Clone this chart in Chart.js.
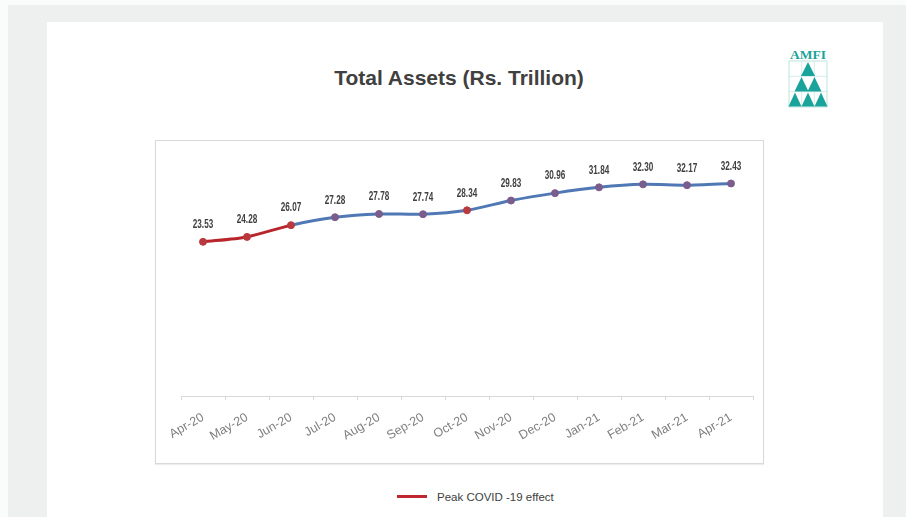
<!DOCTYPE html>
<html>
<head>
<meta charset="utf-8">
<script src="https://cdn.jsdelivr.net/npm/chart.js@4.4.1/dist/chart.umd.min.js"></script>
<style>
  html, body { margin: 0; padding: 0; }
  body { width: 906px; height: 517px; position: relative; overflow: hidden; background: #fafbfb; font-family: 'Liberation Sans', Arial, sans-serif; }
  #backdrop { position: absolute; left: 8px; top: 5px; right: 0; bottom: 0; background: #edf0ef; }
  #card { position: absolute; left: 47px; top: 22px; width: 836px; height: 495px; background: #fff; }
  #title { position: absolute; left: 0; top: 66px; width: 918px; text-align: center; font: bold 21px 'Liberation Sans', Arial, sans-serif; color: #404040; line-height: 24px; }
  #logo { position: absolute; left: 786px; top: 47px; }
  #frame { position: absolute; left: 155px; top: 140px; width: 607px; height: 322px; border: 1px solid #d9d9d9; box-shadow: 0 1px 1px #ececec; }
  #wrap { position: absolute; left: 155px; top: 140px; width: 609px; height: 324px; }
  #legend { position: absolute; left: 397px; top: 491px; font: 11.5px 'Liberation Sans', Arial, sans-serif; color: #404040; white-space: nowrap; }
  #legend .swatch { display: inline-block; width: 30px; height: 3px; background: #c0282f; vertical-align: middle; margin-right: 10px; position: relative; top: -1px; }
</style>
</head>
<body>
<div id="backdrop"></div>
<div id="card"></div>
<div id="title">Total Assets (Rs. Trillion)</div>
<svg id="logo" width="44" height="62" viewBox="0 0 44 62">
  <text x="22" y="12" text-anchor="middle" font-family="'Liberation Serif', serif" font-weight="bold" font-size="12" fill="#1aa39a" textLength="36" lengthAdjust="spacingAndGlyphs">AMFI</text>
  <rect x="3" y="14" width="38" height="46" fill="#fff" stroke="#bfe3df" stroke-width="1"/>
  <g stroke="#c9e7e3" stroke-width="0.8">
    <line x1="15.7" y1="14" x2="15.7" y2="60"/>
    <line x1="28.3" y1="14" x2="28.3" y2="60"/>
    <line x1="3" y1="29.3" x2="41" y2="29.3"/>
    <line x1="3" y1="44.7" x2="41" y2="44.7"/>
  </g>
  <g fill="#1aa39a">
    <polygon points="22,15 29,29 15,29"/>
    <polygon points="15.5,30 22.5,44.5 8.5,44.5"/>
    <polygon points="28.5,30 35.5,44.5 21.5,44.5"/>
    <polygon points="9,45.5 15.5,59.5 2.5,59.5"/>
    <polygon points="22,45.5 28.5,59.5 15.5,59.5"/>
    <polygon points="35,45.5 41.5,59.5 28.5,59.5"/>
  </g>
</svg>
<div id="frame"></div>
<div id="wrap"><canvas id="assetsChart"></canvas></div>
<div id="legend"><span class="swatch"></span>Peak COVID -19 effect</div>

<script>
// Monthly industry AUM, Rs. trillion
const months = ['Apr-20', 'May-20', 'Jun-20', 'Jul-20', 'Aug-20', 'Sep-20', 'Oct-20',
                'Nov-20', 'Dec-20', 'Jan-21', 'Feb-21', 'Mar-21', 'Apr-21'];
const totalAssets = [23.53, 24.28, 26.07, 27.28, 27.78, 27.74, 28.34,
                     29.83, 30.96, 31.84, 32.30, 32.17, 32.43];
// first months of the series are the peak covid stretch
const covidMonths = 2;

const RED = '#b8262c';
const BLUE = '#4f78b5';
const MARKER = '#7a5d8c';
const MARKER_RED = '#b83a3f';

const markerColors = months.map((m, i) => (i <= covidMonths || i === 6) ? MARKER_RED : MARKER);

// write the value over every point (squeezed a bit, like the old Calibri labels)
const valueLabels = {
    id: 'valueLabels',
    afterDatasetsDraw(chart) {
        const ctx = chart.ctx;
        const meta = chart.getDatasetMeta(0);
        ctx.save();
        ctx.font = "bold 12px 'Liberation Sans', Arial, sans-serif";
        ctx.fillStyle = '#404040';
        ctx.textAlign = 'center';
        ctx.textBaseline = 'bottom';
        meta.data.forEach((pt, i) => {
            ctx.save();
            ctx.translate(pt.x, pt.y - 11);
            ctx.scale(0.68, 1);
            ctx.fillText(totalAssets[i].toFixed(2), 0, 0);
            ctx.restore();
        });
        ctx.restore();
    }
};

const ctx = document.getElementById('assetsChart').getContext('2d');
new Chart(ctx, {
    type: 'line',
    data: {
        labels: months,
        datasets: [{
            label: 'Total Assets',
            data: totalAssets,
            borderColor: BLUE,
            borderWidth: 3,
            tension: 0.25,
            pointRadius: 3.5,
            pointBackgroundColor: markerColors,
            pointBorderColor: markerColors,
            pointBorderWidth: 1,
            segment: {
                borderColor: c => c.p0DataIndex < covidMonths ? RED : BLUE
            }
        }]
    },
    options: {
        responsive: true,
        maintainAspectRatio: false,
        animation: false,
        layout: { padding: { left: 26, right: 11, top: 7, bottom: 0 } },
        plugins: {
            legend: { display: false },
            tooltip: { enabled: false }
        },
        scales: {
            y: {
                display: false,
                min: 0,
                max: 38
            },
            x: {
                offset: true,
                grid: {
                    offset: true,
                    drawOnChartArea: false,
                    drawTicks: true,
                    tickLength: 4,
                    color: '#d9d9d9'
                },
                border: { color: '#d9d9d9', width: 1 },
                ticks: {
                    autoSkip: false,
                    minRotation: 30,
                    maxRotation: 30,
                    padding: 10,
                    color: '#7f7f7f',
                    font: { family: "'Liberation Sans', Arial, sans-serif", size: 12.5 }
                },
                afterFit(scale) {
                    scale.height = 68;
                }
            }
        }
    },
    plugins: [valueLabels]
});
</script>
</body>
</html>
